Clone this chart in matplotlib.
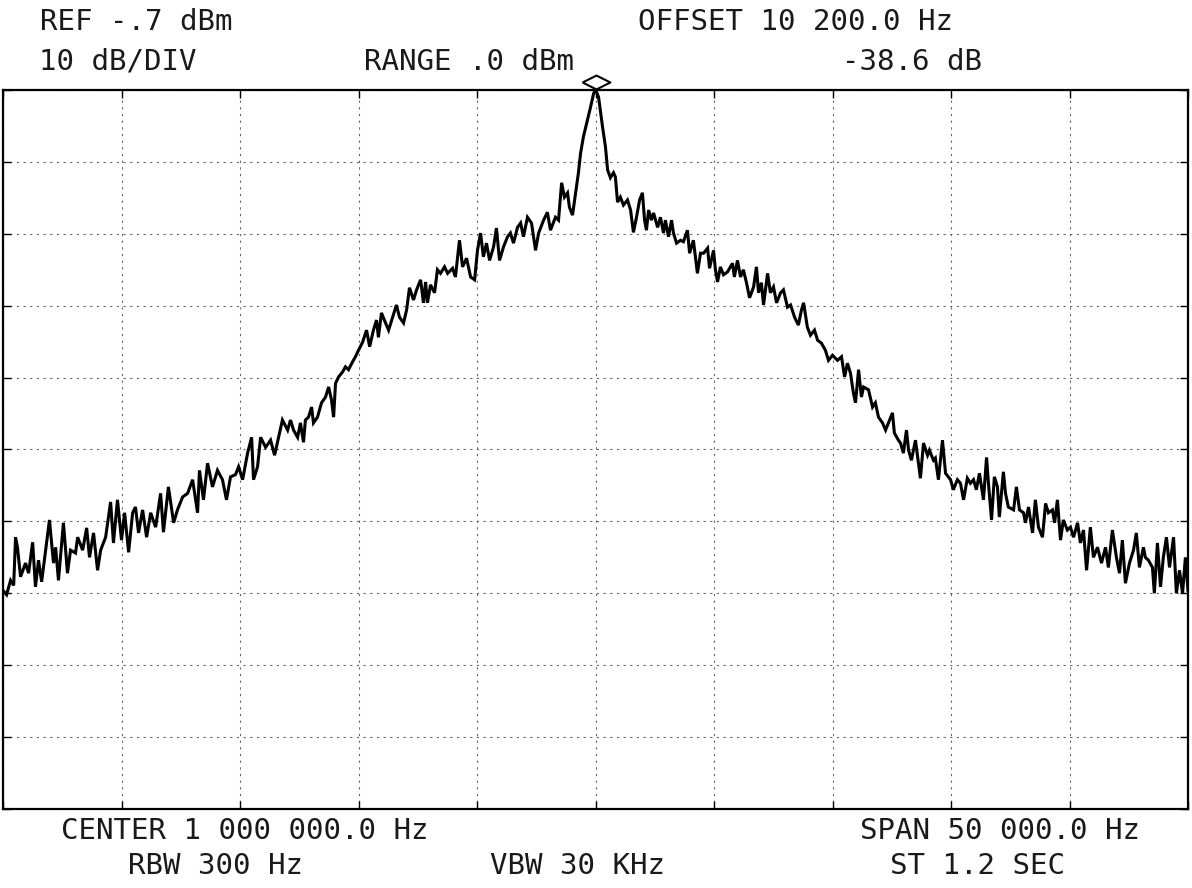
import numpy as np
import matplotlib.pyplot as plt
from matplotlib import transforms

# trace: offset from centre (kHz) and level (dBm)
freq_khz = [
    -25.0, -24.85, -24.68, -24.55, -24.47, -24.39, -24.26, -24.05, -23.92, -23.75,
    -23.63, -23.50, -23.37, -23.20, -23.04, -22.87, -22.78, -22.66, -22.45, -22.28,
    -22.15, -21.94, -21.85, -21.64, -21.47, -21.35, -21.18, -21.01, -20.88, -20.67,
    -20.46, -20.34, -20.17, -20.00, -19.87, -19.70, -19.53, -19.41, -19.28, -19.11,
    -18.94, -18.77, -18.56, -18.35, -18.23, -18.02, -17.80, -17.64, -17.42, -17.21,
    -17.00, -16.79, -16.71, -16.54, -16.37, -16.16, -15.95, -15.74, -15.57, -15.40,
    -15.19, -15.06, -14.89, -14.68, -14.51, -14.43, -14.26, -14.13, -13.92, -13.71,
    -13.54, -13.37, -13.21, -12.99, -12.87, -12.74, -12.57, -12.45, -12.32, -12.24,
    -12.11, -11.98, -11.90, -11.73, -11.56, -11.39, -11.26, -11.14, -11.05, -10.97,
    -10.84, -10.67, -10.55, -10.42, -10.25, -10.13, -10.00, -9.83, -9.66, -9.53,
    -9.37, -9.24, -9.16, -9.03, -8.86, -8.73, -8.56, -8.40, -8.27, -8.10,
    -7.97, -7.85, -7.68, -7.55, -7.38, -7.26, -7.17, -7.09, -6.96, -6.79,
    -6.67, -6.54, -6.37, -6.24, -6.03, -5.91, -5.74, -5.61, -5.44, -5.27,
    -5.10, -4.98, -4.85, -4.73, -4.60, -4.47, -4.30, -4.18, -4.05, -3.88,
    -3.71, -3.59, -3.46, -3.29, -3.16, -3.04, -2.87, -2.70, -2.53, -2.40,
    -2.19, -2.03, -1.90, -1.69, -1.56, -1.43, -1.31, -1.18, -1.10, -0.97,
    -0.84, -0.72, -0.63, -0.51, -0.34, -0.21, -0.08, 0.00, 0.13, 0.30,
    0.42, 0.51, 0.63, 0.76, 0.84, 0.93, 1.05, 1.18, 1.35, 1.48,
    1.60, 1.73, 1.86, 1.98, 2.07, 2.15, 2.24, 2.36, 2.45, 2.62,
    2.74, 2.87, 2.95, 3.08, 3.21, 3.29, 3.42, 3.59, 3.71, 3.88,
    3.97, 4.13, 4.30, 4.43, 4.56, 4.73, 4.81, 4.98, 5.06, 5.15,
    5.27, 5.40, 5.57, 5.78, 5.86, 5.99, 6.12, 6.24, 6.37, 6.50,
    6.67, 6.79, 6.88, 7.00, 7.09, 7.26, 7.38, 7.51, 7.64, 7.81,
    7.93, 8.10, 8.23, 8.40, 8.56, 8.69, 8.78, 8.94, 9.07, 9.24,
    9.37, 9.53, 9.70, 9.83, 10.00, 10.21, 10.38, 10.51, 10.63, 10.76,
    10.88, 10.97, 11.10, 11.22, 11.31, 11.52, 11.69, 11.81, 11.94, 12.11,
    12.24, 12.36, 12.53, 12.61, 12.78, 12.87, 12.99, 13.12, 13.21, 13.33,
    13.50, 13.71, 13.84, 14.01, 14.09, 14.26, 14.34, 14.47, 14.64, 14.77,
    14.98, 15.10, 15.27, 15.40, 15.53, 15.69, 15.82, 15.95, 16.07, 16.20,
    16.37, 16.50, 16.58, 16.71, 16.83, 16.96, 17.04, 17.21, 17.30, 17.42,
    17.64, 17.76, 17.89, 18.06, 18.14, 18.27, 18.44, 18.56, 18.69, 18.86,
    18.99, 19.11, 19.28, 19.37, 19.49, 19.62, 19.74, 19.91, 20.04, 20.17,
    20.34, 20.46, 20.59, 20.72, 20.88, 21.01, 21.18, 21.35, 21.52, 21.64,
    21.81, 21.98, 22.11, 22.23, 22.36, 22.53, 22.70, 22.82, 22.95, 23.12,
    23.20, 23.33, 23.50, 23.58, 23.71, 23.84, 23.96, 24.09, 24.22, 24.39,
    24.51, 24.64, 24.77, 24.89, 25.0,
]
level_dbm = [
    -70.3, -70.9, -68.9, -69.6, -62.9, -64.3, -68.4, -66.5, -67.9, -63.6,
    -69.8, -66.1, -69.1, -64.7, -60.5, -66.5, -64.3, -68.9, -60.9, -67.9,
    -64.7, -65.1, -62.9, -64.7, -61.6, -65.7, -62.3, -67.5, -64.7, -62.9,
    -58.0, -63.7, -57.7, -63.3, -59.5, -65.0, -59.5, -58.7, -62.3, -59.1,
    -62.9, -59.5, -61.5, -56.8, -62.2, -55.9, -60.9, -59.1, -57.3, -56.8,
    -54.9, -59.5, -53.6, -57.7, -52.6, -55.9, -53.6, -54.9, -57.7, -54.5,
    -54.2, -53.1, -54.9, -51.2, -49.0, -54.9, -53.1, -49.0, -50.4, -49.4,
    -51.5, -49.0, -46.6, -48.0, -46.6, -48.0, -49.0, -47.0, -49.7, -46.6,
    -46.2, -44.8, -47.0, -46.2, -44.2, -43.4, -42.0, -43.8, -46.2, -41.5,
    -40.6, -39.9, -39.2, -39.6, -38.5, -37.8, -36.9, -35.8, -34.1, -36.4,
    -34.1, -32.7, -35.1, -31.7, -33.1, -34.1, -32.3, -30.6, -32.3, -33.1,
    -31.3, -28.2, -29.9, -28.5, -27.1, -30.3, -27.4, -30.3, -27.8, -28.9,
    -25.7, -26.2, -25.3, -26.2, -25.5, -26.7, -21.6, -25.3, -24.1, -26.7,
    -27.1, -23.0, -20.6, -23.9, -22.0, -24.4, -22.5, -19.9, -24.4, -22.5,
    -21.1, -20.6, -22.0, -19.8, -19.2, -21.1, -18.4, -19.2, -23.0, -20.6,
    -18.8, -17.7, -20.2, -18.4, -18.8, -13.6, -15.6, -15.0, -17.0, -18.1,
    -15.0, -12.2, -9.5, -7.2, -4.9, -3.1, -1.2, -0.6, -1.7, -5.9,
    -8.6, -11.8, -12.9, -12.2, -12.8, -16.3, -15.6, -16.7, -16.0, -17.4,
    -20.5, -18.4, -16.0, -15.0, -18.8, -20.2, -17.4, -18.8, -17.8, -19.8,
    -18.4, -20.6, -18.8, -21.1, -18.8, -20.6, -22.0, -21.6, -21.8, -20.2,
    -23.4, -21.6, -26.2, -23.4, -23.4, -22.7, -25.5, -23.0, -25.7, -27.4,
    -25.3, -26.4, -26.0, -24.8, -26.7, -24.4, -26.7, -25.7, -27.5, -29.6,
    -28.1, -25.3, -28.9, -27.5, -30.6, -26.2, -28.9, -28.1, -30.3, -28.9,
    -28.5, -30.9, -30.6, -32.3, -33.4, -31.3, -30.3, -33.7, -34.8, -34.1,
    -35.5, -35.9, -36.9, -38.3, -37.6, -38.3, -37.8, -40.6, -38.7, -40.1,
    -42.8, -44.2, -39.6, -43.4, -42.0, -42.4, -44.8, -44.2, -46.2, -47.0,
    -48.0, -47.0, -45.6, -48.4, -49.4, -49.8, -51.2, -48.0, -50.8, -52.2,
    -49.4, -54.7, -49.8, -51.5, -50.8, -52.2, -51.9, -54.9, -49.4, -54.0,
    -54.9, -56.3, -54.9, -55.4, -57.7, -54.7, -55.4, -54.9, -56.3, -54.0,
    -57.7, -51.8, -55.4, -60.5, -54.5, -55.9, -60.1, -53.8, -56.8, -58.7,
    -59.1, -55.9, -59.1, -59.5, -60.9, -58.7, -62.3, -57.7, -61.5, -62.9,
    -58.2, -59.5, -59.1, -60.9, -57.7, -63.3, -60.5, -61.9, -61.5, -62.9,
    -60.9, -63.7, -61.9, -67.5, -61.5, -65.7, -64.3, -66.5, -64.3, -67.1,
    -61.9, -65.7, -67.9, -63.3, -69.3, -66.5, -64.7, -62.3, -67.1, -64.3,
    -65.7, -66.1, -67.1, -70.7, -63.7, -69.8, -65.7, -62.9, -67.1, -62.9,
    -70.7, -67.5, -70.7, -65.7, -70.3,
]

ref_level = -0.7
db_per_div = 10
span_khz = 50

top_lines = [("REF -.7 dBm", 136), ("OFFSET 10 200.0 Hz", 795)]
second_lines = [("10 dB/DIV", 118), ("RANGE .0 dBm", 469), ("-38.6 dB", 912)]
bottom_lines = [("CENTER 1 000 000.0 Hz", 245), ("SPAN 50 000.0 Hz", 1000)]
last_lines = [("RBW 300 Hz", 216), ("VBW 30 KHz", 577), ("ST 1.2 SEC", 977)]

W, H = 1192, 888
fig = plt.figure(figsize=(W / 100, H / 100), dpi=100)
fig.set_facecolor("white")
ax = fig.add_axes([3 / W, (H - 809) / H, 1185 / W, 719 / H])

ax.plot(freq_khz, level_dbm, color="black", linewidth=2.2, solid_joinstyle="miter")

# peak marker (open diamond sitting on the peak)
f = np.array(freq_khz)
lv = np.array(level_dbm)
i = np.argmax(lv)
shift = transforms.offset_copy(ax.transData, fig=fig, x=0, y=5, units="points")
ax.plot(f[i], lv[i], marker=[(-1, 0), (0, 0.5), (1, 0), (0, -0.5), (-1, 0)],
        markersize=20, markerfacecolor="white", markeredgecolor="black",
        markeredgewidth=1.5, transform=shift, clip_on=False)

ax.set_xlim(-span_khz / 2, span_khz / 2)
ax.set_ylim(ref_level - 10 * db_per_div, ref_level)
ax.set_xticks(np.arange(-25, 26, 5))
ax.set_yticks(ref_level - np.arange(0, 101, db_per_div))
ax.grid(True, color="#666666", linestyle=(0, (2, 4)), linewidth=0.8)
ax.tick_params(which="both", direction="in", length=6, width=1,
               top=True, right=True, labelbottom=False, labelleft=False)
for s in ax.spines.values():
    s.set_linewidth(1.6)
    s.set_color("black")

txt = dict(family="DejaVu Sans Mono", fontsize=21, color="#1a1a1a",
           ha="center", va="center")
for rows, ypix in [(top_lines, 22), (second_lines, 62),
                   (bottom_lines, 831), (last_lines, 866)]:
    for s, xpix in rows:
        fig.text(xpix / W, 1 - ypix / H, s, **txt)

plt.savefig("out.png", dpi=100, facecolor="white")
